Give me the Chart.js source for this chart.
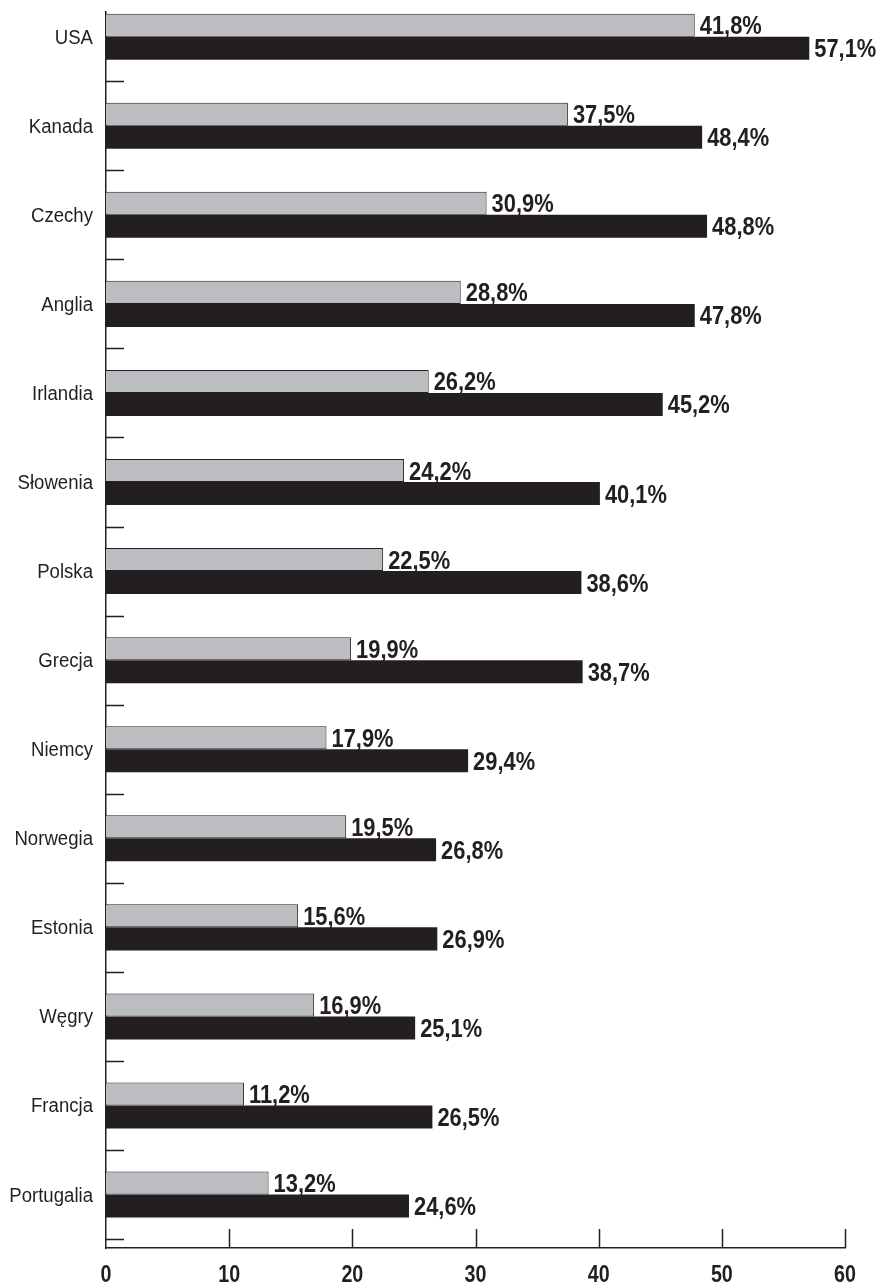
<!DOCTYPE html>
<html>
<head>
<meta charset="utf-8">
<script src="https://cdn.jsdelivr.net/npm/chart.js@4/dist/chart.umd.min.js"></script>
<style>
  html, body { margin: 0; padding: 0; background: #fff; }
  #wrap { width: 884px; height: 1285px; }
</style>
</head>
<body>
<div id="wrap"><canvas id="chart" width="884" height="1285"></canvas></div>
<script>
// =======================
// DATA
// =======================
const categories = ["USA","Kanada","Czechy","Anglia","Irlandia","Słowenia","Polska","Grecja","Niemcy","Norwegia","Estonia","Węgry","Francja","Portugalia"];

// gray bars (bar length as drawn in the picture)
const grayValues  = [47.8, 37.5, 30.9, 28.8, 26.2, 24.2, 22.5, 19.9, 17.9, 19.5, 15.6, 16.9, 11.2, 13.2];
// gray bars (value printed next to the bar)
const grayPrinted = [41.8, 37.5, 30.9, 28.8, 26.2, 24.2, 22.5, 19.9, 17.9, 19.5, 15.6, 16.9, 11.2, 13.2];
// black bars
const blackValues = [57.1, 48.4, 48.8, 47.8, 45.2, 40.1, 38.6, 38.7, 29.4, 26.8, 26.9, 25.1, 26.5, 24.6];

const xTicks = [0, 10, 20, 30, 40, 50, 60];

const INK = "#231f20";
const FONT = "'Liberation Sans', Arial, sans-serif";

function fmt(v){
  return v.toFixed(1).replace(".", ",") + "%";
}

// condensed text: the original uses a narrow face, so squeeze a normal one
function narrowText(ctx, txt, x, y, font, sx, align){
  ctx.save();
  ctx.font = font;
  ctx.textAlign = align;
  ctx.textBaseline = "alphabetic";
  ctx.translate(x, y);
  ctx.scale(sx, 1);
  ctx.fillText(txt, 0, 0);
  ctx.restore();
}

// =======================
// PLUGINS
// =======================
const valueLabels = {
  id: "valueLabels",
  afterDatasetsDraw(chart){
    const ctx = chart.ctx;
    ctx.save();
    ctx.fillStyle = INK;
    chart.data.datasets.forEach((ds, di)=>{
      const meta = chart.getDatasetMeta(di);
      meta.data.forEach((bar, i)=>{
        narrowText(ctx, fmt(ds.printed[i]), bar.x + 5, bar.y + 9, "bold 25px " + FONT, 0.875, "left");
      });
    });
    ctx.restore();
  }
};

const axisDecor = {
  id: "axisDecor",
  afterDraw(chart){
    const ctx = chart.ctx;
    const x = chart.scales.x, y = chart.scales.y;
    const area = chart.chartArea;
    ctx.save();
    ctx.strokeStyle = INK;
    ctx.fillStyle = INK;
    ctx.lineWidth = 1.5;
    ctx.beginPath();
    // short marks between categories
    categories.forEach((c, i)=>{
      const py = Math.round(y.getPixelForValue(i + 0.5)) + 0.5;
      ctx.moveTo(area.left, py);
      ctx.lineTo(area.left + 18, py);
    });
    // marks on the value axis, pointing up
    xTicks.forEach(v=>{
      if(v === 0) return;
      const px = Math.round(x.getPixelForValue(v)) + 0.5;
      ctx.moveTo(px, area.bottom);
      ctx.lineTo(px, area.bottom - 19);
    });
    ctx.stroke();

    // category names
    categories.forEach((c, i)=>{
      narrowText(ctx, c, area.left - 13, y.getPixelForValue(i) + 7, "20px " + FONT, 0.93, "right");
    });
    // value axis numbers
    xTicks.forEach(v=>{
      narrowText(ctx, String(v), x.getPixelForValue(v), area.bottom + 34, "bold 24px " + FONT, 0.82, "center");
    });
    ctx.restore();
  }
};

// =======================
// CHART
// =======================
new Chart(document.getElementById("chart"), {
  type: "bar",
  data: {
    datasets: [
      {
        data: grayValues.map((v,i)=>({x:v, y:i})),
        printed: grayPrinted,
        backgroundColor: "#bcbdc1",
        borderColor: INK,
        borderWidth: 1,
        borderSkipped: "start"
      },
      {
        data: blackValues.map((v,i)=>({x:v, y:i})),
        printed: blackValues,
        backgroundColor: INK,
        borderWidth: 0
      }
    ]
  },
  options: {
    indexAxis: "y",
    responsive: false,
    animation: false,
    events: [],
    categoryPercentage: 0.517,
    barPercentage: 1,
    layout: { padding: { top: 12, right: 39, left: 0, bottom: 0 } },
    plugins: { legend: { display: false }, tooltip: { enabled: false } },
    scales: {
      x: {
        type: "linear",
        min: 0,
        max: 60,
        afterBuildTicks(scale){ scale.ticks = xTicks.map(v=>({value:v})); },
        afterFit(scale){ scale.height = 37; },
        grid: { display: false, drawTicks: false },
        border: { display: true, color: INK, width: 1.5 },
        ticks: { display: false }
      },
      y: {
        type: "linear",
        offset: false,
        reverse: true,
        min: -0.277,
        max: 13.6,
        afterBuildTicks(scale){ scale.ticks = categories.map((c,i)=>({value:i})); },
        afterFit(scale){ scale.width = 106; },
        grid: { display: false, drawTicks: false, offset: false },
        border: { display: true, color: INK, width: 1.5 },
        ticks: { display: false }
      }
    }
  },
  plugins: [valueLabels, axisDecor]
});
</script>
</body>
</html>
